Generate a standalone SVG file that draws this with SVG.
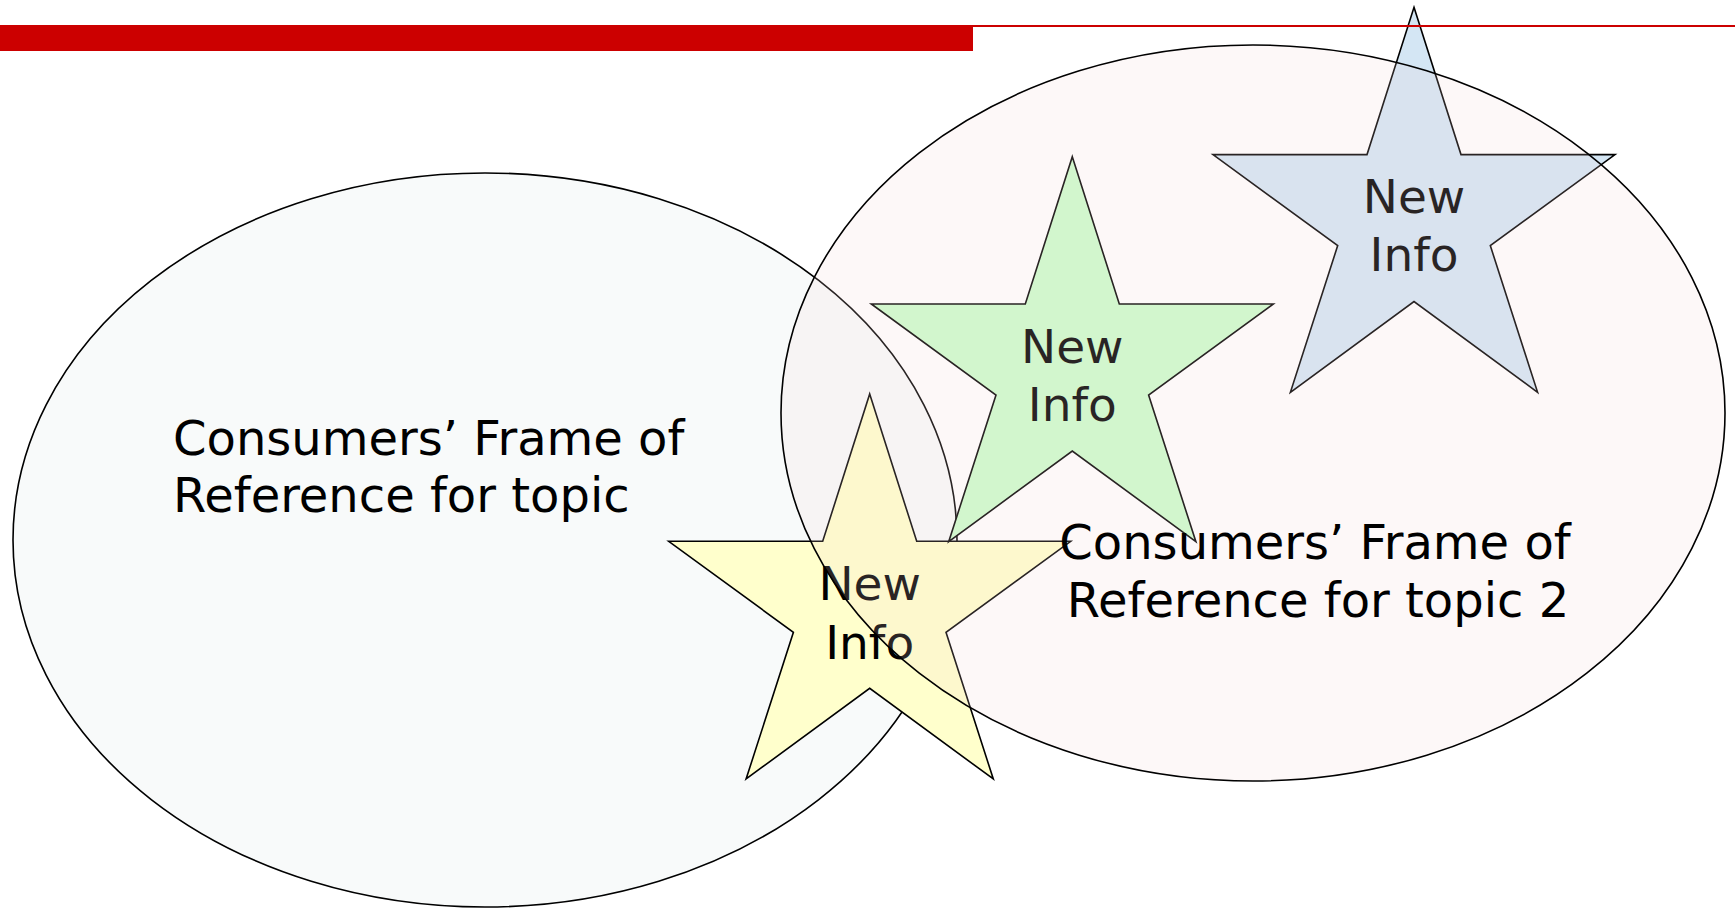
<svg xmlns="http://www.w3.org/2000/svg" xmlns:xlink="http://www.w3.org/1999/xlink" width="1735" height="908" viewBox="0 0 1735 908">
  <style>
    .outline { stroke: #000; stroke-width: 1.6; stroke-linejoin: miter; }
    .frame-text { font-family: "DejaVu Sans", Verdana, sans-serif; font-size: 48px; fill: #000; }
    .star-text { font-family: "DejaVu Sans", Verdana, sans-serif; font-size: 47px; fill: #000; text-anchor: middle; }
    .accent { fill: #cc0000; }
  </style>
  <defs>
    <!-- five-point star, origin at the top tip -->
    <path id="star" d="M0,0 L47,147.3 L201,147.3 L76.3,238.3 L123.6,385 L0,294.3 L-123.6,385 L-76.3,238.3 L-201,147.3 L-47,147.3 Z"/>
  </defs>

  <rect width="1735" height="908" fill="#ffffff"/>

  <!-- first topic frame -->
  <g id="frame-topic-1">
    <ellipse class="outline" cx="485" cy="540" rx="472" ry="367" fill="#f8fafa"/>
    <text class="frame-text" x="173" y="455">Consumers’ Frame of</text>
    <text class="frame-text" x="173" y="512">Reference for topic</text>
  </g>

  <!-- new information stars -->
  <g id="star-yellow">
    <use href="#star" xlink:href="#star" class="outline" transform="translate(869.7,394)" fill="#ffffcc"/>
    <text class="star-text" x="869.7" y="600">New</text>
    <text class="star-text" x="869.7" y="658.5">Info</text>
  </g>
  <g id="star-green">
    <use href="#star" xlink:href="#star" class="outline" transform="translate(1072.3,156.7)" fill="#ccfdcc"/>
    <text class="star-text" x="1072.3" y="362.5">New</text>
    <text class="star-text" x="1072.3" y="421">Info</text>
  </g>
  <g id="star-blue">
    <use href="#star" xlink:href="#star" class="outline" transform="translate(1414,7.3)" fill="#d4e6f4"/>
    <text class="star-text" x="1414" y="212.5">New</text>
    <text class="star-text" x="1414" y="271">Info</text>
  </g>

  <!-- second topic frame, translucent so what lies beneath shows through -->
  <g id="frame-topic-2">
    <ellipse cx="1253" cy="413" rx="472" ry="368" fill="#f6d4d4" fill-opacity="0.17"/>
    <ellipse class="outline" cx="1253" cy="413" rx="472" ry="368" fill="none"/>
    <text class="frame-text" x="1315" y="559" text-anchor="middle">Consumers’ Frame of</text>
    <text class="frame-text" x="1318" y="617" text-anchor="middle">Reference for topic 2</text>
  </g>

  <!-- header rule -->
  <g id="header-rule">
    <rect class="accent" x="0" y="25" width="973" height="26"/>
    <rect class="accent" x="973" y="25" width="762" height="2"/>
  </g>
</svg>
